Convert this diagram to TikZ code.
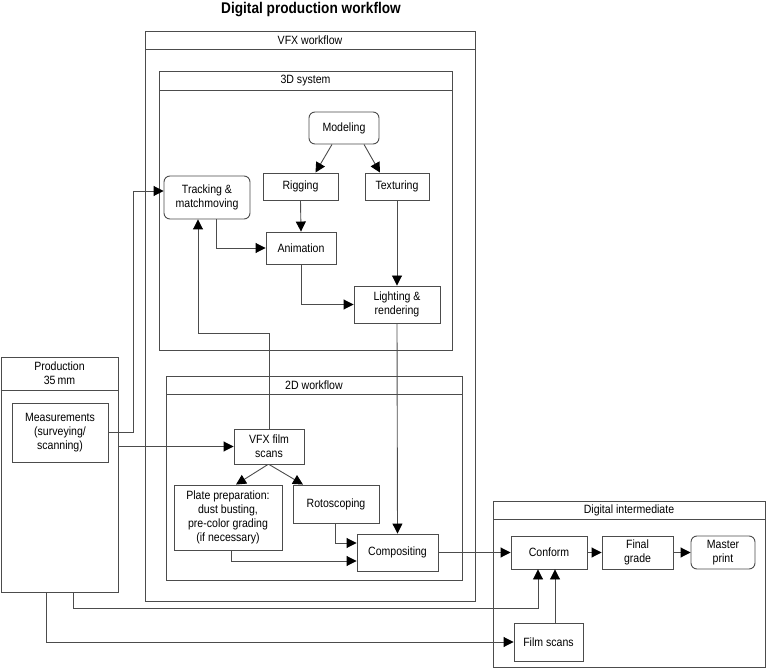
\documentclass[tikz,border=0pt]{standalone}
\usepackage{fontspec}
\setmainfont[FakeStretch=0.88]{Liberation Sans}
\usepackage{tikz}
\usetikzlibrary{arrows.meta,calc,positioning}
\definecolor{linea}{gray}{0.3}
\tikzset{
  caja/.style={draw=linea,fill=white,line width=0.9pt,align=center,inner sep=1pt,font=\fontsize{12}{13.8}\selectfont},
  redonda/.style={caja,rounded corners=6pt},
  marco/.style={draw=linea,line width=0.9pt},
  cabeza/.style={font=\fontsize{12}{13.8}\selectfont},
  flecha/.style={draw=linea,line width=0.9pt,-{Triangle[length=10pt,width=10pt,color=black]}},
  linea/.style={draw=linea,line width=0.9pt}
}

\begin{document}
\begin{tikzpicture}[x=1pt,y=-1pt]
\useasboundingbox (0,0) rectangle (766,668);
\node[font=\bfseries\fontsize{15.5}{18}\selectfont] (titulo) at (311,10) {Digital production workflow};
% marcos
\draw[marco] (145,31) rectangle (475,601); \draw[marco] (145,49) -- (475,49);
\node[cabeza] (vfxhead) at (310,40) {VFX workflow};
\draw[marco] (159,71) rectangle (452,350); \draw[marco] (159,90) -- (452,90);
\node[cabeza] (sishead) at (305.5,80.5) {3D system};
\draw[marco] (166,376) rectangle (462,580); \draw[marco] (166,394) -- (462,394);
\node[cabeza] (wfhead) at (314,385) {2D workflow};
\draw[marco] (493,501) rectangle (765,667); \draw[marco] (493,519) -- (765,519);
\node[cabeza] (dihead) at (629,510) {Digital intermediate};
\node[marco,minimum width=117pt,minimum height=235pt] (prod) at (59.5,474.5) {};
\draw[marco] (prod.west |- 0,390) -- (prod.east |- 0,390);
\node[cabeza,align=center] (prodhead) at (59.5,373.5) {Production\\35\,mm};
% sistema 3D
\node[redonda,minimum width=70pt,minimum height=32pt] (model) at (344,128) {Modeling};
\node[caja,minimum width=75pt,minimum height=27pt] (rig) at (300.5,186.5) {Rigging};
\node[caja,minimum width=64pt,minimum height=27pt] (tex) at (397,186.5) {Texturing};
\node[redonda,minimum width=86pt,minimum height=43pt] (track) at (207,197.5) {Tracking \&\\matchmoving};
\node[caja,minimum width=70pt,minimum height=32pt] (anim) at (301,248) {Animation};
\node[caja,minimum width=86pt,minimum height=37pt] (light) at (397,304.5) {Lighting \&\\rendering};
% 2D
\node[caja,minimum width=70pt,minimum height=35pt] (vfxscan) at (269,446.5) {VFX film\\scans};
\node[caja,minimum width=108pt,minimum height=65pt] (plate) at (228,517.5) {Plate preparation:\\dust busting,\\pre-color grading\\(if necessary)};
\node[caja,minimum width=86pt,minimum height=38pt] (roto) at (336,504) {Rotoscoping};
\node[caja,minimum width=81pt,minimum height=37pt] (comp) at (397.5,552.5) {Compositing};
% produccion y DI
\node[caja,minimum width=96pt,minimum height=59pt] (meas) at (60,432.5) {Measurements\\(surveying/\\scanning)};
\node[caja,minimum width=76pt,minimum height=33pt] (conform) at (549,552.5) {Conform};
\node[caja,minimum width=71pt,minimum height=33pt] (grade) at (637.5,552.5) {Final\\grade};
\node[redonda,minimum width=64pt,minimum height=33pt] (master) at (723,552.5) {Master\\print};
\node[caja,minimum width=69pt,minimum height=38pt] (fscan) at (548.5,642) {Film scans};
% conectores
\coordinate (codo) at (198,333);
\draw[flecha] ([xshift=-12pt]model.south) -- ([xshift=15pt]rig.north);
\draw[flecha] ([xshift=20pt]model.south) -- ([xshift=-17pt]tex.north);
\draw[flecha] (rig.south) -- (anim.north);
\draw[flecha] ([xshift=9pt]track.south) |- (anim.west);
\draw[flecha] (anim.south) |- (light.west);
\draw[flecha] (tex.south) -- (light.north);
\draw[flecha] (light.south) -- (comp.north);
\draw[flecha] (vfxscan.north) |- (codo) -- ([xshift=-9pt]track.south);
\draw[flecha] (meas.east) -- ++(25,0) |- ([yshift=6.5pt]track.west);
\draw[flecha] (prod.east |- vfxscan.west) -- (vfxscan.west);
\draw[flecha] ([xshift=-1pt]vfxscan.south) -- ([xshift=8pt]plate.north);
\draw[flecha] (vfxscan.south) -- ([xshift=-33pt]roto.north);
\draw[flecha] ([xshift=-1pt]roto.south) |- ([yshift=9.5pt]comp.west);
\draw[flecha] ([xshift=3pt]plate.south) |- ([yshift=-8.5pt]comp.west);
\draw[flecha] (comp.east) -- (conform.west);
\draw[flecha] (conform.east) -- (grade.west);
\draw[flecha] (grade.east) -- (master.west);
\draw[flecha] ([xshift=6.5pt]fscan.north) -- ([xshift=6pt]conform.south);
\draw[flecha] ([xshift=13.5pt]prod.south) -- ++(0,16) -| ([xshift=-11pt]conform.south);
\draw[flecha] ([xshift=-13.5pt]prod.south) |- (fscan.west);
\end{tikzpicture}
\end{document}
